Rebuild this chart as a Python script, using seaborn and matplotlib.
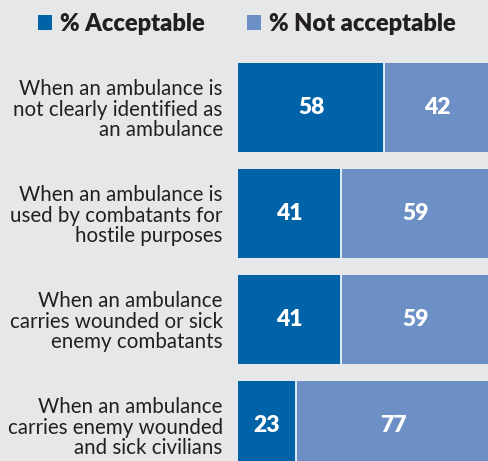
import matplotlib
matplotlib.use("Agg")
import matplotlib.pyplot as plt
import seaborn as sns
import pandas as pd

categories = [
    "When an ambulance is\nnot clearly identified as\nan ambulance",
    "When an ambulance is\nused by combatants for\nhostile purposes",
    "When an ambulance\ncarries wounded or sick\nenemy combatants",
    "When an ambulance\ncarries enemy wounded\nand sick civilians",
]
acceptable = [58, 41, 41, 23]
not_acceptable = [42, 59, 59, 77]
series_names = ["% Acceptable", "% Not acceptable"]

BG = "#e6e7e8"
DARK = "#0063a8"
LIGHT = "#6c90c6"
TXT = "#231f20"

sns.set_style("white")
plt.rcParams["font.family"] = ["Lato", "DejaVu Sans"]

df = pd.DataFrame({"cat": categories, "acc": acceptable, "nacc": not_acceptable})
df["total"] = df["acc"] + df["nacc"]

fig = plt.figure(figsize=(4.88, 4.61), dpi=100, facecolor=BG)
ax = fig.add_axes([238 / 488, 0, 252 / 488, (461 - 55) / 461])
ax.set_facecolor(BG)

W = 0.84
sns.barplot(data=df, x="total", y="cat", color=LIGHT, saturation=1, width=W,
            orient="h", ax=ax, label=series_names[1], linewidth=0)
sns.barplot(data=df, x="acc", y="cat", color=DARK, saturation=1, width=W,
            orient="h", ax=ax, label=series_names[0], linewidth=0)
if ax.get_legend() is not None:
    ax.get_legend().remove()

pos = list(range(len(categories)))
ax.vlines(df["acc"], [p - W / 2 for p in pos], [p + W / 2 for p in pos],
          color="white", lw=1.2)

for p, a, n in zip(pos, acceptable, not_acceptable):
    ax.text(a / 2, p, f"{a}", ha="center", va="center", color="white",
            fontsize=16.5, fontweight="heavy")
    ax.text(a + n / 2, p, f"{n}", ha="center", va="center", color="white",
            fontsize=16.5, fontweight="heavy")

ax.set_xlim(0, 100)
ax.set_ylim(3.335, -0.495)
for s in ax.spines.values():
    s.set_visible(False)
ax.set_xticks([])
ax.set_xlabel("")
ax.set_ylabel("")
ax.tick_params(axis="y", length=0, pad=11, labelsize=14.8, labelcolor=TXT)
for t in ax.get_yticklabels():
    t.set_linespacing(1.02)

handles = [ax.containers[1], ax.containers[0]]
leg = fig.legend(handles=handles, labels=series_names, loc="center left",
                 bbox_to_anchor=(38 / 488, 1 - 24 / 461), ncol=2, frameon=False,
                 borderpad=0, borderaxespad=0, handlelength=0.6, handleheight=0.6,
                 handletextpad=0.33, columnspacing=1.8,
                 prop={"size": 17.0, "weight": "heavy"})
for t in leg.get_texts():
    t.set_color(TXT)

fig.savefig("out.png", dpi=100, facecolor=BG)
